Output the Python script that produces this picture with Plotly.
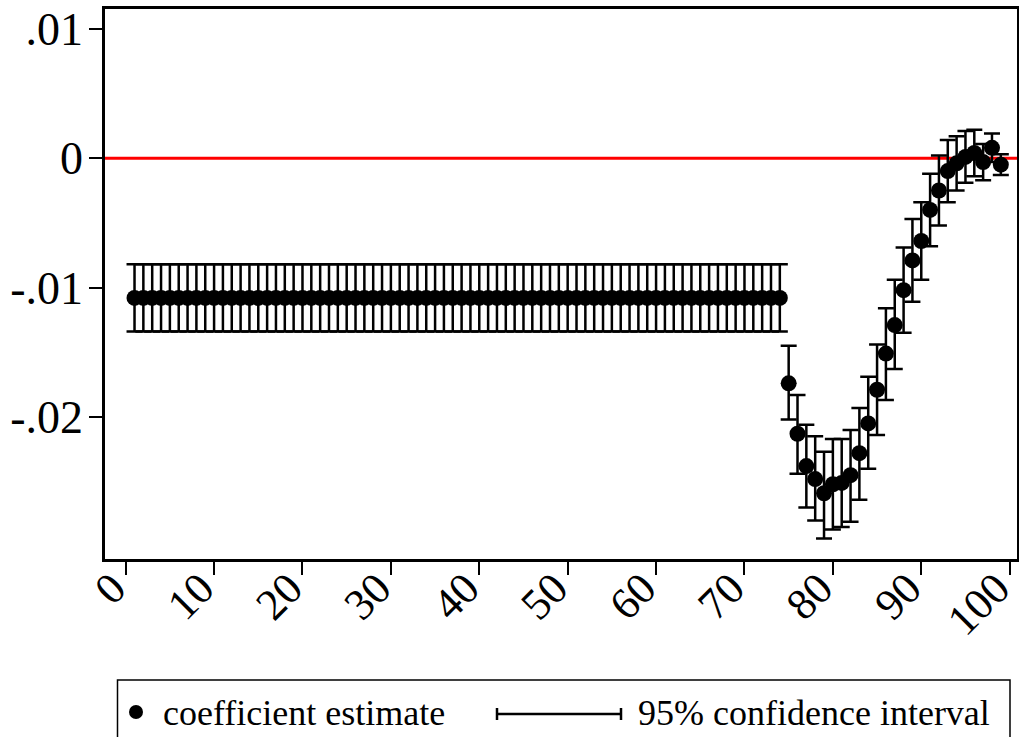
import plotly.graph_objects as go

# ---- data ----
bins = list(range(1, 100))

estimate = [
    -0.0108, -0.0108, -0.0108, -0.0108, -0.0108, -0.0108, -0.0108, -0.0108, -0.0108, -0.0108,
    -0.0108, -0.0108, -0.0108, -0.0108, -0.0108, -0.0108, -0.0108, -0.0108, -0.0108, -0.0108,
    -0.0108, -0.0108, -0.0108, -0.0108, -0.0108, -0.0108, -0.0108, -0.0108, -0.0108, -0.0108,
    -0.0108, -0.0108, -0.0108, -0.0108, -0.0108, -0.0108, -0.0108, -0.0108, -0.0108, -0.0108,
    -0.0108, -0.0108, -0.0108, -0.0108, -0.0108, -0.0108, -0.0108, -0.0108, -0.0108, -0.0108,
    -0.0108, -0.0108, -0.0108, -0.0108, -0.0108, -0.0108, -0.0108, -0.0108, -0.0108, -0.0108,
    -0.0108, -0.0108, -0.0108, -0.0108, -0.0108, -0.0108, -0.0108, -0.0108, -0.0108, -0.0108,
    -0.0108, -0.0108, -0.0108, -0.0108,
    -0.0174, -0.0213, -0.0238, -0.0248, -0.0259, -0.0252, -0.0251, -0.0245, -0.0228, -0.0205,
    -0.0179, -0.0151, -0.0129, -0.0102, -0.0079, -0.0064, -0.0040, -0.0025, -0.0010, -0.0004,
    0.0001, 0.0004, -0.0003, 0.0008, -0.0005,
]

ci_low = [
    -0.0134, -0.0134, -0.0134, -0.0134, -0.0134, -0.0134, -0.0134, -0.0134, -0.0134, -0.0134,
    -0.0134, -0.0134, -0.0134, -0.0134, -0.0134, -0.0134, -0.0134, -0.0134, -0.0134, -0.0134,
    -0.0134, -0.0134, -0.0134, -0.0134, -0.0134, -0.0134, -0.0134, -0.0134, -0.0134, -0.0134,
    -0.0134, -0.0134, -0.0134, -0.0134, -0.0134, -0.0134, -0.0134, -0.0134, -0.0134, -0.0134,
    -0.0134, -0.0134, -0.0134, -0.0134, -0.0134, -0.0134, -0.0134, -0.0134, -0.0134, -0.0134,
    -0.0134, -0.0134, -0.0134, -0.0134, -0.0134, -0.0134, -0.0134, -0.0134, -0.0134, -0.0134,
    -0.0134, -0.0134, -0.0134, -0.0134, -0.0134, -0.0134, -0.0134, -0.0134, -0.0134, -0.0134,
    -0.0134, -0.0134, -0.0134, -0.0134,
    -0.0202, -0.0244, -0.0270, -0.0280, -0.0294, -0.0287, -0.0285, -0.0281, -0.0264, -0.0240,
    -0.0214, -0.0187, -0.0163, -0.0135, -0.0111, -0.0094, -0.0068, -0.0052, -0.0034, -0.0025,
    -0.0019, -0.0014, -0.0017, -0.0003, -0.0013,
]

ci_high = [
    -0.0082, -0.0082, -0.0082, -0.0082, -0.0082, -0.0082, -0.0082, -0.0082, -0.0082, -0.0082,
    -0.0082, -0.0082, -0.0082, -0.0082, -0.0082, -0.0082, -0.0082, -0.0082, -0.0082, -0.0082,
    -0.0082, -0.0082, -0.0082, -0.0082, -0.0082, -0.0082, -0.0082, -0.0082, -0.0082, -0.0082,
    -0.0082, -0.0082, -0.0082, -0.0082, -0.0082, -0.0082, -0.0082, -0.0082, -0.0082, -0.0082,
    -0.0082, -0.0082, -0.0082, -0.0082, -0.0082, -0.0082, -0.0082, -0.0082, -0.0082, -0.0082,
    -0.0082, -0.0082, -0.0082, -0.0082, -0.0082, -0.0082, -0.0082, -0.0082, -0.0082, -0.0082,
    -0.0082, -0.0082, -0.0082, -0.0082, -0.0082, -0.0082, -0.0082, -0.0082, -0.0082, -0.0082,
    -0.0082, -0.0082, -0.0082, -0.0082,
    -0.0145, -0.0183, -0.0206, -0.0215, -0.0227, -0.0217, -0.0217, -0.0210, -0.0193, -0.0169,
    -0.0144, -0.0116, -0.0094, -0.0069, -0.0047, -0.0034, -0.0012, 0.0002, 0.0014, 0.0017,
    0.0021, 0.0022, 0.0011, 0.0019, 0.0003,
]

x_ticks = [0, 10, 20, 30, 40, 50, 60, 70, 80, 90, 100]
x_ticklabels = ["0", "10", "20", "30", "40", "50", "60", "70", "80", "90", "100"]
y_ticks = [-0.02, -0.01, 0, 0.01]
y_ticklabels = ["-.02", "-.01", "0", ".01"]

legend_labels = ["coefficient estimate", "95% confidence interval"]

# ---- figure ----
FONT = "Liberation Serif"
W, H = 1019, 737
ML, MR, MT, MB = 105, 2, 9, 178
PW = W - ML - MR
PH = H - MT - MB


def px_x(px):
    return (px - ML) / PW


def px_y(py):
    return (H - MB - py) / PH


err_plus = [h - e for h, e in zip(ci_high, estimate)]
err_minus = [e - l for e, l in zip(estimate, ci_low)]

fig = go.Figure()
fig.add_trace(go.Scatter(
    x=bins, y=estimate, mode="markers",
    marker=dict(color="black", size=16, line=dict(width=0)),
    error_y=dict(type="data", symmetric=False, array=err_plus, arrayminus=err_minus,
                 color="black", thickness=2.5, width=8),
    showlegend=False, cliponaxis=False,
))

shapes = []
# zero reference line
shapes.append(dict(type="line", xref="paper", yref="y", x0=0, x1=1, y0=0, y1=0,
                   line=dict(color="red", width=3), layer="below"))
# legend box
shapes.append(dict(type="rect", xref="paper", yref="paper",
                   x0=px_x(117.5), x1=px_x(1010), y0=px_y(680), y1=px_y(760),
                   line=dict(color="black", width=1.5), fillcolor="rgba(0,0,0,0)"))
# legend dot
shapes.append(dict(type="circle", xref="paper", yref="paper",
                   x0=px_x(129), x1=px_x(143), y0=px_y(719), y1=px_y(705),
                   line=dict(color="black", width=0), fillcolor="black"))
# legend CI symbol
shapes.append(dict(type="line", xref="paper", yref="paper",
                   x0=px_x(497), x1=px_x(621), y0=px_y(714), y1=px_y(714),
                   line=dict(color="black", width=2.5)))
shapes.append(dict(type="line", xref="paper", yref="paper",
                   x0=px_x(497), x1=px_x(497), y0=px_y(708), y1=px_y(720),
                   line=dict(color="black", width=2.5)))
shapes.append(dict(type="line", xref="paper", yref="paper",
                   x0=px_x(621), x1=px_x(621), y0=px_y(708), y1=px_y(720),
                   line=dict(color="black", width=2.5)))

annotations = [
    dict(xref="paper", yref="paper", x=px_x(161), y=px_y(713), text=legend_labels[0],
         showarrow=False, xanchor="left", yanchor="middle",
         font=dict(family=FONT, size=36, color="black")),
    dict(xref="paper", yref="paper", x=px_x(636), y=px_y(713), text=legend_labels[1],
         showarrow=False, xanchor="left", yanchor="middle",
         font=dict(family=FONT, size=36, color="black")),
]

fig.update_layout(
    width=W, height=H,
    margin=dict(l=ML, r=MR, t=MT, b=MB, pad=0, autoexpand=False),
    paper_bgcolor="white", plot_bgcolor="white",
    font=dict(family=FONT, color="black"),
    shapes=shapes, annotations=annotations,
    showlegend=False,
)
fig.update_xaxes(
    range=[-2.34, 100.83], tickvals=x_ticks, ticktext=x_ticklabels,
    tickangle=-45, tickfont=dict(family=FONT, size=44, color="black"),
    ticklabeloverflow="allow", ticklabelstandoff=-30, ticklabelshift=-13,
    automargin=False,
    ticks="outside", ticklen=13, tickwidth=2, tickcolor="black",
    showline=True, linewidth=2.5, linecolor="black", mirror=True,
    showgrid=False, zeroline=False,
)
fig.update_yaxes(
    range=[-0.03098, 0.01153], tickvals=y_ticks, ticktext=y_ticklabels,
    tickfont=dict(family=FONT, size=46, color="black"),
    ticklabelstandoff=-3, automargin=False,
    ticks="outside", ticklen=13, tickwidth=2, tickcolor="black",
    showline=True, linewidth=2.5, linecolor="black", mirror=True,
    showgrid=False, zeroline=False,
)

fig.write_html("out.html")
